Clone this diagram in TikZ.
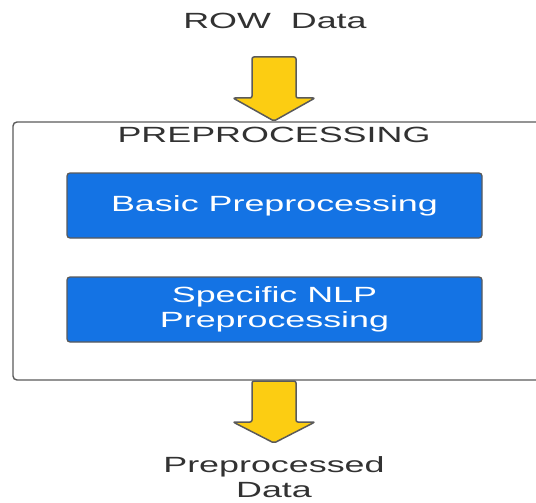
\documentclass[tikz,border=0pt]{standalone}
\usepackage{fontspec}
\setmainfont[FakeStretch=1.63]{Liberation Sans}
\definecolor{boxblue}{RGB}{20,115,228}
\definecolor{arrowyellow}{RGB}{252,205,18}
\definecolor{edgegray}{RGB}{90,90,90}
\definecolor{txtgray}{RGB}{50,50,50}
\tikzset{
  lbl/.style={text=txtgray, font=\fontsize{22}{25.5}\selectfont, align=center, inner sep=0pt},
  bluebox/.style={draw=edgegray, line width=1.3pt, fill=boxblue, rounded corners=3pt, text=white,
     font=\fontsize{22}{25.5}\selectfont, align=center, minimum width=415pt, minimum height=65pt, inner sep=0pt},
  bigarrow/.style={draw=edgegray, line width=1.5pt, fill=arrowyellow, rounded corners=2pt, line join=round},
  frame/.style={draw=edgegray, line width=1.4pt, rounded corners=4pt}
}
\begin{document}
\begin{tikzpicture}[x=1pt,y=-1pt]
\useasboundingbox (0,0) rectangle (536,503);
\clip (0,0) rectangle (536,503);
\node[lbl] (raw) at (275,21) {ROW\ \ Data};
\draw[frame] (13,122) rectangle (560,380);
\coordinate (frametop) at (274,121);
\coordinate (framebot) at (274,381);
\node[lbl] (pre) at (274,135) {PREPROCESSING};
\node[bluebox] (basic) at (274.5,205.5) {Basic Preprocessing};
\node[bluebox] (nlp) at (274.5,309.5) {Specific NLP\\Preprocessing};
\node[lbl, anchor=north] (out) at (274,456) {Preprocessed\\Data};
% top arrow
\draw[bigarrow] (252,57) -- (252,98) -- (233,98) -- (frametop) -- (315,98) -- (296,98) -- (296,57) -- cycle;
% bottom arrow
\draw[bigarrow] (252,381) -- (252,422) -- (233,422) -- (274,443) -- (315,422) -- (296,422) -- (296,381) -- cycle;
\end{tikzpicture}
\end{document}
